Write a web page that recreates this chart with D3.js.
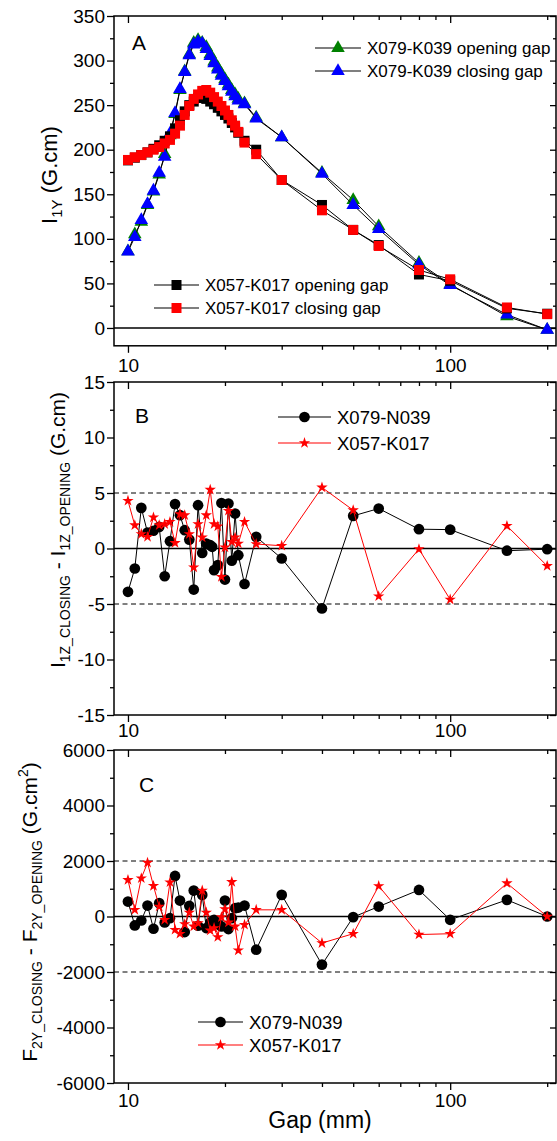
<!DOCTYPE html>
<html>
<head>
<meta charset="utf-8">
<script src="https://cdn.jsdelivr.net/npm/d3@7"></script>
<style>
  body { margin: 0; background: #fff; }
  svg { display: block; font-family: "Liberation Sans", Arial, sans-serif; }
</style>
</head>
<body>
<svg id="chart" width="557" height="1141"></svg>
<script>
// gap (mm) values for the measurement runs
const gaps = [10, 10.5, 11, 11.5, 12, 12.5, 13, 13.5, 14, 14.5, 15, 15.5, 16, 16.5, 17, 17.5, 18, 18.5, 19, 19.5,
  20, 20.5, 21, 21.5, 22, 23, 25, 30, 40, 50, 60, 80, 100, 150, 200];
const gapsN039 = [10, 10.5, 11, 11.5, 12, 12.5, 13, 13.5, 14, 14.5, 15, 15.5, 16, 16.5, 17, 17.5, 18, 18.25, 18.5, 19, 19.5,
  20, 20.5, 21, 21.5, 22, 23, 25, 30, 40, 50, 60, 80, 100, 150, 200];

// panel A : I1Y (G.cm)
const k039Opening = [86, 105, 119, 138, 153, 172, 195, 216, 240, 267, 288, 307, 320, 323, 320, 315, 307, 299, 292, 285,
  279, 273, 267, 262, 257, 252, 236, 214, 174, 143.6, 114, 73, 49, 13, -2];
const k039Closing = [85.6, 102, 121, 139, 154, 174, 192, 218, 241, 268, 287, 306, 318, 321, 319, 313, 305, 297, 290, 283,
  277, 271, 265, 260, 255, 251, 235, 214, 173, 138, 111, 71, 48, 15, -2];
const k017Opening = [188, 191, 194, 197, 201, 205, 210, 215, 224, 233, 243, 250, 254, 258, 259, 257, 254, 251, 247, 243,
  239, 235, 230, 225, 219, 210, 200, 166, 138, 110, 93, 60, 53, 22, 16];
const k017Closing = [188.5, 191.5, 194, 197, 200, 203, 207, 211, 218, 227, 239, 249, 257, 262, 266, 267, 264, 259, 254, 249,
  244, 239, 233, 227, 220, 208, 195, 166, 132, 110, 92, 65, 54.6, 23, 15.5];

// panel B : I1Z closing - opening (G.cm)
const n039DiffI1Z = [-3.9, -1.8, 3.66, 1.44, 1.6, 1.95, -2.5, 0.66, 4.0, 3.0, 1.65, 0.8, -3.7, 3.9, -0.4, 0.45, 0.3, 0.15, -1.95, -1.5,
  4.1, -2.8, 4.05, -1.1, 3.15, -0.6, -3.2, 1.05, -0.9, -5.4, 2.94, 3.6, 1.74, 1.7, -0.2, -0.06];
const k017DiffI1Z = [4.3, 2.1, 1.3, 1.05, 2.8, 2.1, 2.2, 2.4, 0.5, 3.1, 3.0, 1.3, -1.7, 2.2, 1.0, 3.0, 5.3, 2.2, 2.0, -2.55,
  0.1, 3.4, 0.6, 1.0, 0.45, 2.4, 0.4, 0.25, 5.5, 3.45, -4.3, -0.06, -4.6, 2.04, -1.57];

// panel C : F2Y closing - opening (G.cm2)
const n039DiffF2Y = [539, -323, -144, 395, -442, 481, -215, -60, 1461, 575, -560, 384, 934, -334, 779, -417, -215, -119, -275, -359,
  575, -453, -60, 300, 323, 395, -1196, 779, -1734, -22, 359, 956, -118, 600, 0];
const k017DiffF2Y = [1318, 240, 1379, 1939, 1102, 359, -119, 1235, -478, -621, -274, 144, -359, -237, 934, 144, -503, -417, -740, -22,
  266, -215, 1246, -359, -1221, -298, 240, 240, -957, -621, 1100, -650, -621, 1200, 0];

const xMajor = [10, 100];
const xMinor = [20, 30, 40, 50, 60, 70, 80, 90, 200];

const svg = d3.select('svg#chart');
const fontFam = '"Liberation Sans", Arial, sans-serif';

const x = d3.scaleLog().domain([9.05, 213]).range([114, 556]);
const left = 114, right = 556;

function styleAxis(sel, size) {
  sel.select('.domain').remove();
  sel.attr('font-family', fontFam).attr('font-size', size);
  sel.selectAll('.tick line').attr('stroke', '#000').attr('stroke-width', 1.3);
  sel.selectAll('.tick text').attr('fill', '#000');
}

function drawPanel(cfg) {
  const y = d3.scaleLinear().domain(cfg.domain).range([cfg.bottom, cfg.top]);
  const g = svg.append('g');
  const fmt = (d) => String(d);

  // left axis with labels (ticks outward)
  g.append('g').attr('transform', `translate(${left},0)`)
    .call(d3.axisLeft(y).tickValues(cfg.yMajor).tickSize(7).tickPadding(2).tickFormat(fmt))
    .call(styleAxis, 19);
  g.append('g').attr('transform', `translate(${left},0)`)
    .call(d3.axisLeft(y).tickValues(cfg.yMinor).tickSize(4).tickFormat(''))
    .call(styleAxis, 19);
  // right axis, ticks inward
  g.append('g').attr('transform', `translate(${right},0)`)
    .call(d3.axisLeft(y).tickValues(cfg.yMajor).tickSize(6).tickFormat(''))
    .call(styleAxis, 19);
  g.append('g').attr('transform', `translate(${right},0)`)
    .call(d3.axisLeft(y).tickValues(cfg.yMinor).tickSize(3).tickFormat(''))
    .call(styleAxis, 19);
  // bottom axis, ticks outward
  g.append('g').attr('transform', `translate(0,${cfg.bottom})`)
    .call(d3.axisBottom(x).tickValues(xMajor).tickSize(7).tickPadding(cfg.xPad).tickFormat(fmt))
    .call(styleAxis, 19);
  g.append('g').attr('transform', `translate(0,${cfg.bottom})`)
    .call(d3.axisBottom(x).tickValues(xMinor).tickSize(4).tickFormat(''))
    .call(styleAxis, 19);
  // top axis, ticks inward
  g.append('g').attr('transform', `translate(0,${cfg.top})`)
    .call(d3.axisBottom(x).tickValues(xMajor).tickSize(7).tickFormat(''))
    .call(styleAxis, 19);
  g.append('g').attr('transform', `translate(0,${cfg.top})`)
    .call(d3.axisBottom(x).tickValues(xMinor).tickSize(4).tickFormat(''))
    .call(styleAxis, 19);

  // frame
  g.append('rect')
    .attr('x', left).attr('y', cfg.top)
    .attr('width', right - left).attr('height', cfg.bottom - cfg.top)
    .attr('fill', 'none').attr('stroke', '#000').attr('stroke-width', 1.5);

  // reference lines
  (cfg.dashed || []).forEach((v) => {
    g.append('line').attr('x1', left).attr('x2', right)
      .attr('y1', y(v)).attr('y2', y(v))
      .attr('stroke', '#000').attr('stroke-width', 1).attr('stroke-dasharray', '5,3.5');
  });
  g.append('line').attr('x1', left).attr('x2', right)
    .attr('y1', y(0)).attr('y2', y(0))
    .attr('stroke', '#000').attr('stroke-width', 1.6);

  // panel letter
  g.append('text').attr('x', cfg.letterPos[0]).attr('y', cfg.letterPos[1])
    .attr('font-size', 21).text(cfg.letter);

  return { g, y };
}

function marker(kind, color) {
  const sym = {
    triangle: d3.symbol(d3.symbolTriangle, 80),
    square: d3.symbol(d3.symbolSquare, 100),
    circle: d3.symbol(d3.symbolCircle, 90),
    star: d3.symbol(d3.symbolStar, 40),
  }[kind];
  return { path: sym(), color };
}

function drawSeries(p, xs, ys, lineColor, mk, lineWidth) {
  const pts = xs.map((d, i) => [d, ys[i]]);
  const line = d3.line().x((d) => x(d[0])).y((d) => p.y(d[1]));
  p.g.append('path').datum(pts)
    .attr('d', line).attr('fill', 'none')
    .attr('stroke', lineColor).attr('stroke-width', lineWidth || 1);
  p.g.selectAll(null).data(pts).enter()
    .append('path')
    .attr('d', mk.path)
    .attr('transform', (d) => `translate(${x(d[0])},${p.y(d[1])})`)
    .attr('fill', mk.color);
}

function legendItem(g, x0, x1, yy, lineColor, mk, label, fontSize) {
  g.append('line').attr('x1', x0).attr('x2', x1).attr('y1', yy).attr('y2', yy)
    .attr('stroke', lineColor).attr('stroke-width', 1.2);
  g.append('path').attr('d', mk.path)
    .attr('transform', `translate(${(x0 + x1) / 2},${yy})`).attr('fill', mk.color);
  g.append('text').attr('x', x1 + 6).attr('y', yy + fontSize * 0.36)
    .attr('font-size', fontSize).text(label);
}

function yTitle(parts, cx, cy, big, small) {
  const t = svg.append('text')
    .attr('transform', `translate(${cx},${cy}) rotate(-90)`)
    .attr('text-anchor', 'middle')
    .attr('font-family', fontFam);
  let shift = 0;
  parts.forEach((p) => {
    const want = p.sub ? 5 : p.sup ? -9 : 0;
    t.append('tspan').attr('dy', want - shift)
      .attr('font-size', p.sub || p.sup ? small : big).text(p.t);
    shift = want;
  });
}

// ---- Panel A ----
const pA = drawPanel({
  top: 16, bottom: 345.8, domain: [-20, 350],
  yMajor: [0, 50, 100, 150, 200, 250, 300, 350],
  yMinor: [25, 75, 125, 175, 225, 275, 325],
  xPad: 6, letter: 'A', letterPos: [132, 50],
});
const triGreen = marker('triangle', '#008000');
const triBlue = marker('triangle', '#0000ff');
const sqBlack = marker('square', '#000');
const sqRed = marker('square', '#ff0000');
drawSeries(pA, gaps, k039Opening, '#000', triGreen);
drawSeries(pA, gaps, k039Closing, '#000', triBlue);
drawSeries(pA, gaps, k017Opening, '#000', sqBlack);
drawSeries(pA, gaps, k017Closing, '#000', sqRed);
legendItem(pA.g, 315, 361, 48, '#000', triGreen, 'X079-K039 opening gap', 17);
legendItem(pA.g, 315, 361, 71, '#000', triBlue, 'X079-K039 closing gap', 17);
legendItem(pA.g, 154, 199, 285, '#000', sqBlack, 'X057-K017 opening gap', 17);
legendItem(pA.g, 154, 199, 308, '#000', sqRed, 'X057-K017 closing gap', 17);

// ---- Panel B ----
const pB = drawPanel({
  top: 382, bottom: 715, domain: [-15, 15],
  yMajor: [-15, -10, -5, 0, 5, 10, 15],
  yMinor: [-12.5, -7.5, -2.5, 2.5, 7.5, 12.5],
  dashed: [-5, 5],
  xPad: 1.5, letter: 'B', letterPos: [135, 423],
});
const dotBlack = marker('circle', '#000');
const starRed = marker('star', '#ff0000');
drawSeries(pB, gapsN039, n039DiffI1Z, '#000', dotBlack);
drawSeries(pB, gaps, k017DiffI1Z, '#ff0000', starRed);
legendItem(pB.g, 278, 331, 417, '#000', dotBlack, 'X079-N039', 18.5);
legendItem(pB.g, 278, 331, 443, '#ff0000', starRed, 'X057-K017', 18.5);

// ---- Panel C ----
const pC = drawPanel({
  top: 750, bottom: 1083, domain: [-6000, 6000],
  yMajor: [-6000, -4000, -2000, 0, 2000, 4000, 6000],
  yMinor: [-5000, -3000, -1000, 1000, 3000, 5000],
  dashed: [-2000, 2000],
  xPad: 3.5, letter: 'C', letterPos: [139, 792],
});
drawSeries(pC, gaps, n039DiffF2Y, '#000', dotBlack);
drawSeries(pC, gaps, k017DiffF2Y, '#ff0000', starRed);
legendItem(pC.g, 198, 243, 1022, '#000', dotBlack, 'X079-N039', 18.5);
legendItem(pC.g, 198, 243, 1045, '#ff0000', starRed, 'X057-K017', 18.5);

// axis titles
yTitle([{ t: 'I' }, { t: '1Y', sub: true }, { t: ' (G.cm)' }], 57, 175, 22, 15);
yTitle([{ t: 'I' }, { t: '1Z_CLOSING', sub: true }, { t: ' - I' }, { t: '1Z_OPENING', sub: true }, { t: ' (G.cm)' }],
  65, 530, 21, 14);
yTitle([{ t: 'F' }, { t: '2Y_CLOSING', sub: true }, { t: ' - F' }, { t: '2Y_OPENING', sub: true },
  { t: ' (G.cm' }, { t: '2', sup: true }, { t: ')' }], 37, 912, 21, 14);

svg.append('text')
  .attr('x', 320).attr('y', 1128)
  .attr('text-anchor', 'middle')
  .attr('font-size', 23)
  .text('Gap (mm)');
</script>
</body>
</html>
